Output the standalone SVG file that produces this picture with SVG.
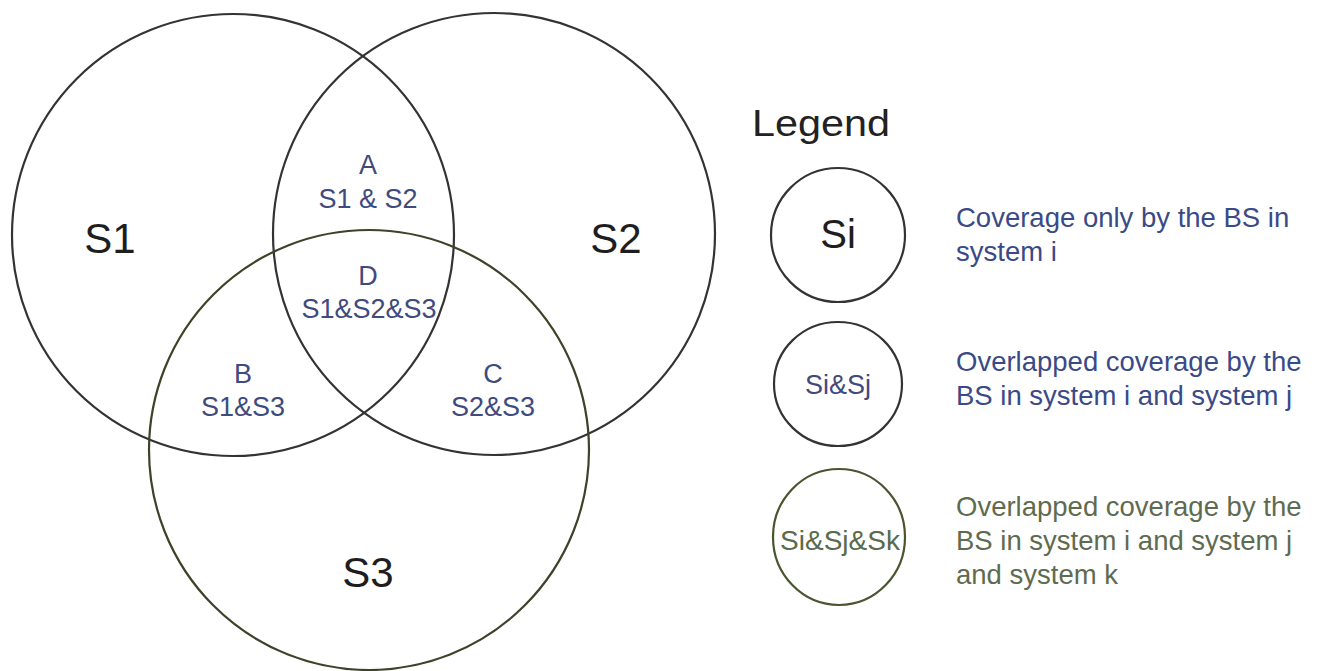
<svg xmlns="http://www.w3.org/2000/svg" width="1319" height="671" viewBox="0 0 1319 671">
<style>
text{font-family:"Liberation Sans",Arial,sans-serif}
.c{fill:none;stroke:#333;stroke-width:2.2}
.g{fill:none;stroke:#3d4228;stroke-width:2.2}
.big{font-size:42px;fill:#1e1e1e;text-anchor:middle}
.lab{font-size:27px;fill:#3f4a7e;text-anchor:middle}
.desc{font-size:27.5px;fill:#3a4a86}
.descg{font-size:27.5px;fill:#5f6b4f}
</style>
<rect width="1319" height="671" fill="#fff"/>
<g id="S1"><circle class="c" cx="233" cy="235" r="221"/><text class="big" x="110" y="253">S1</text></g>
<g id="S2"><circle class="c" cx="494" cy="234" r="221"/><text class="big" x="616" y="253">S2</text></g>
<g id="S3"><circle class="g" cx="369" cy="450" r="220"/><text class="big" x="368" y="587">S3</text></g>
<g id="regionA"><text class="lab" x="368" y="174">A</text><text class="lab" x="368" y="208">S1 &amp; S2</text></g>
<g id="regionD"><text class="lab" x="368" y="285">D</text><text class="lab" x="369" y="318">S1&amp;S2&amp;S3</text></g>
<g id="regionB"><text class="lab" x="243" y="383">B</text><text class="lab" x="243" y="416">S1&amp;S3</text></g>
<g id="regionC"><text class="lab" x="493" y="383">C</text><text class="lab" x="493" y="416">S2&amp;S3</text></g>
<g id="legend">
<text x="752" y="136" textLength="138" lengthAdjust="spacingAndGlyphs" style="font-size:37px;fill:#222">Legend</text>
<g id="leg1"><ellipse class="c" cx="838" cy="235" rx="67" ry="67"/><text x="838" y="248" style="font-size:40px;fill:#1e1e1e;text-anchor:middle">Si</text>
<text class="desc" x="956" y="227">Coverage only by the BS in</text><text class="desc" x="956" y="261">system i</text></g>
<g id="leg2"><ellipse class="c" cx="838" cy="384" rx="64" ry="62"/><text x="838" y="394" style="font-size:27px;fill:#3f4a7e;text-anchor:middle">Si&amp;Sj</text>
<text class="desc" x="956" y="371">Overlapped coverage by the</text><text class="desc" x="956" y="405">BS in system i and system j</text></g>
<g id="leg3"><ellipse cx="839" cy="537" rx="66" ry="68" style="fill:none;stroke:#4a5530;stroke-width:2.2"/><text x="840" y="550" style="font-size:28px;fill:#5a6a4a;text-anchor:middle">Si&amp;Sj&amp;Sk</text>
<text class="descg" x="956" y="516">Overlapped coverage by the</text><text class="descg" x="956" y="550">BS in system i and system j</text><text class="descg" x="956" y="584">and system k</text></g>
</g>
<g id="connectors"/>
</svg>
